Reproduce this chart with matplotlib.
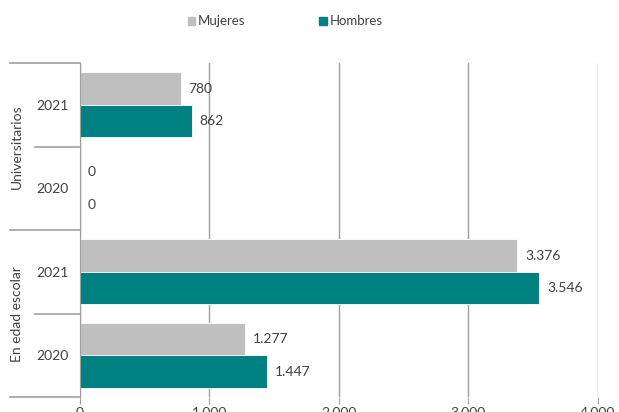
import matplotlib.pyplot as plt
from matplotlib.transforms import blended_transform_factory
from matplotlib.patches import Patch

plt.rcParams['font.family'] = ['Lato', 'DejaVu Sans']

groups = ['Universitarios', 'En edad escolar']
years = ['2021', '2020', '2021', '2020']
mujeres = [780, 0, 3376, 1277]
hombres = [862, 0, 3546, 1447]
xticks = [0, 1000, 2000, 3000, 4000]
xlabels = ['0', '1.000', '2.000', '3.000', '4.000']

c_muj = '#bfbfbf'
c_hom = '#008080'
txt = '#404040'
line_c = '#a0a0a0'

fig = plt.figure(figsize=(6.19, 4.12), dpi=100)
ax = fig.add_axes([0.129, 0.036, 0.837, 0.811])

pos = [3, 2, 1, 0]
h = 0.39
ax.barh([p + h / 2 for p in pos], mujeres, height=h, color=c_muj,
        edgecolor='white', linewidth=0.6, zorder=2)
ax.barh([p - h / 2 for p in pos], hombres, height=h, color=c_hom,
        edgecolor='white', linewidth=0.6, zorder=2)

def fmt(v):
    return f'{v:,}'.replace(',', '.')

for p, m, hm in zip(pos, mujeres, hombres):
    ax.text(m + 60, p + h / 2, fmt(m), va='center', ha='left', fontsize=10, color=txt)
    ax.text(hm + 60, p - h / 2, fmt(hm), va='center', ha='left', fontsize=10, color=txt)

ax.set_xlim(0, 4000)
ax.set_ylim(-0.5, 3.5)
ax.set_xticks(xticks)
ax.set_xticklabels(xlabels, fontsize=10, color=txt)
ax.set_yticks(pos)
ax.set_yticklabels(years, fontsize=10, color=txt)
ax.tick_params(axis='y', length=0, pad=8)
ax.tick_params(axis='x', length=5, color=line_c, pad=2)
ax.grid(axis='x', color=line_c, linewidth=1, zorder=0)
ax.set_axisbelow(True)
for s in ['top', 'right', 'bottom']:
    ax.spines[s].set_visible(False)
ax.spines['left'].set_color(line_c)

# category separators on the left
tr = blended_transform_factory(ax.transAxes, ax.transData)
for yb, start in [(3.5, -0.135), (2.5, -0.087), (1.5, -0.135), (0.5, -0.087), (-0.5, -0.135)]:
    ax.plot([start, 0], [yb, yb], color=line_c, linewidth=1.2, transform=tr, clip_on=False)

ax.text(-0.121, 2.5, groups[0], rotation=90, ha='center', va='center',
        fontsize=10, color=txt, transform=tr)
ax.text(-0.121, 0.5, groups[1], rotation=90, ha='center', va='center',
        fontsize=10, color=txt, transform=tr)

handles = [Patch(color=c_muj, label='Mujeres'), Patch(color=c_hom, label='Hombres')]
fig.legend(handles=handles, loc='center', bbox_to_anchor=(0.461, 0.948), ncol=2,
           frameon=False, fontsize=9.5, handlelength=0.6, handleheight=0.6,
           handletextpad=0.2, columnspacing=5.6, labelcolor=txt)

fig.savefig('out.png', dpi=100)
